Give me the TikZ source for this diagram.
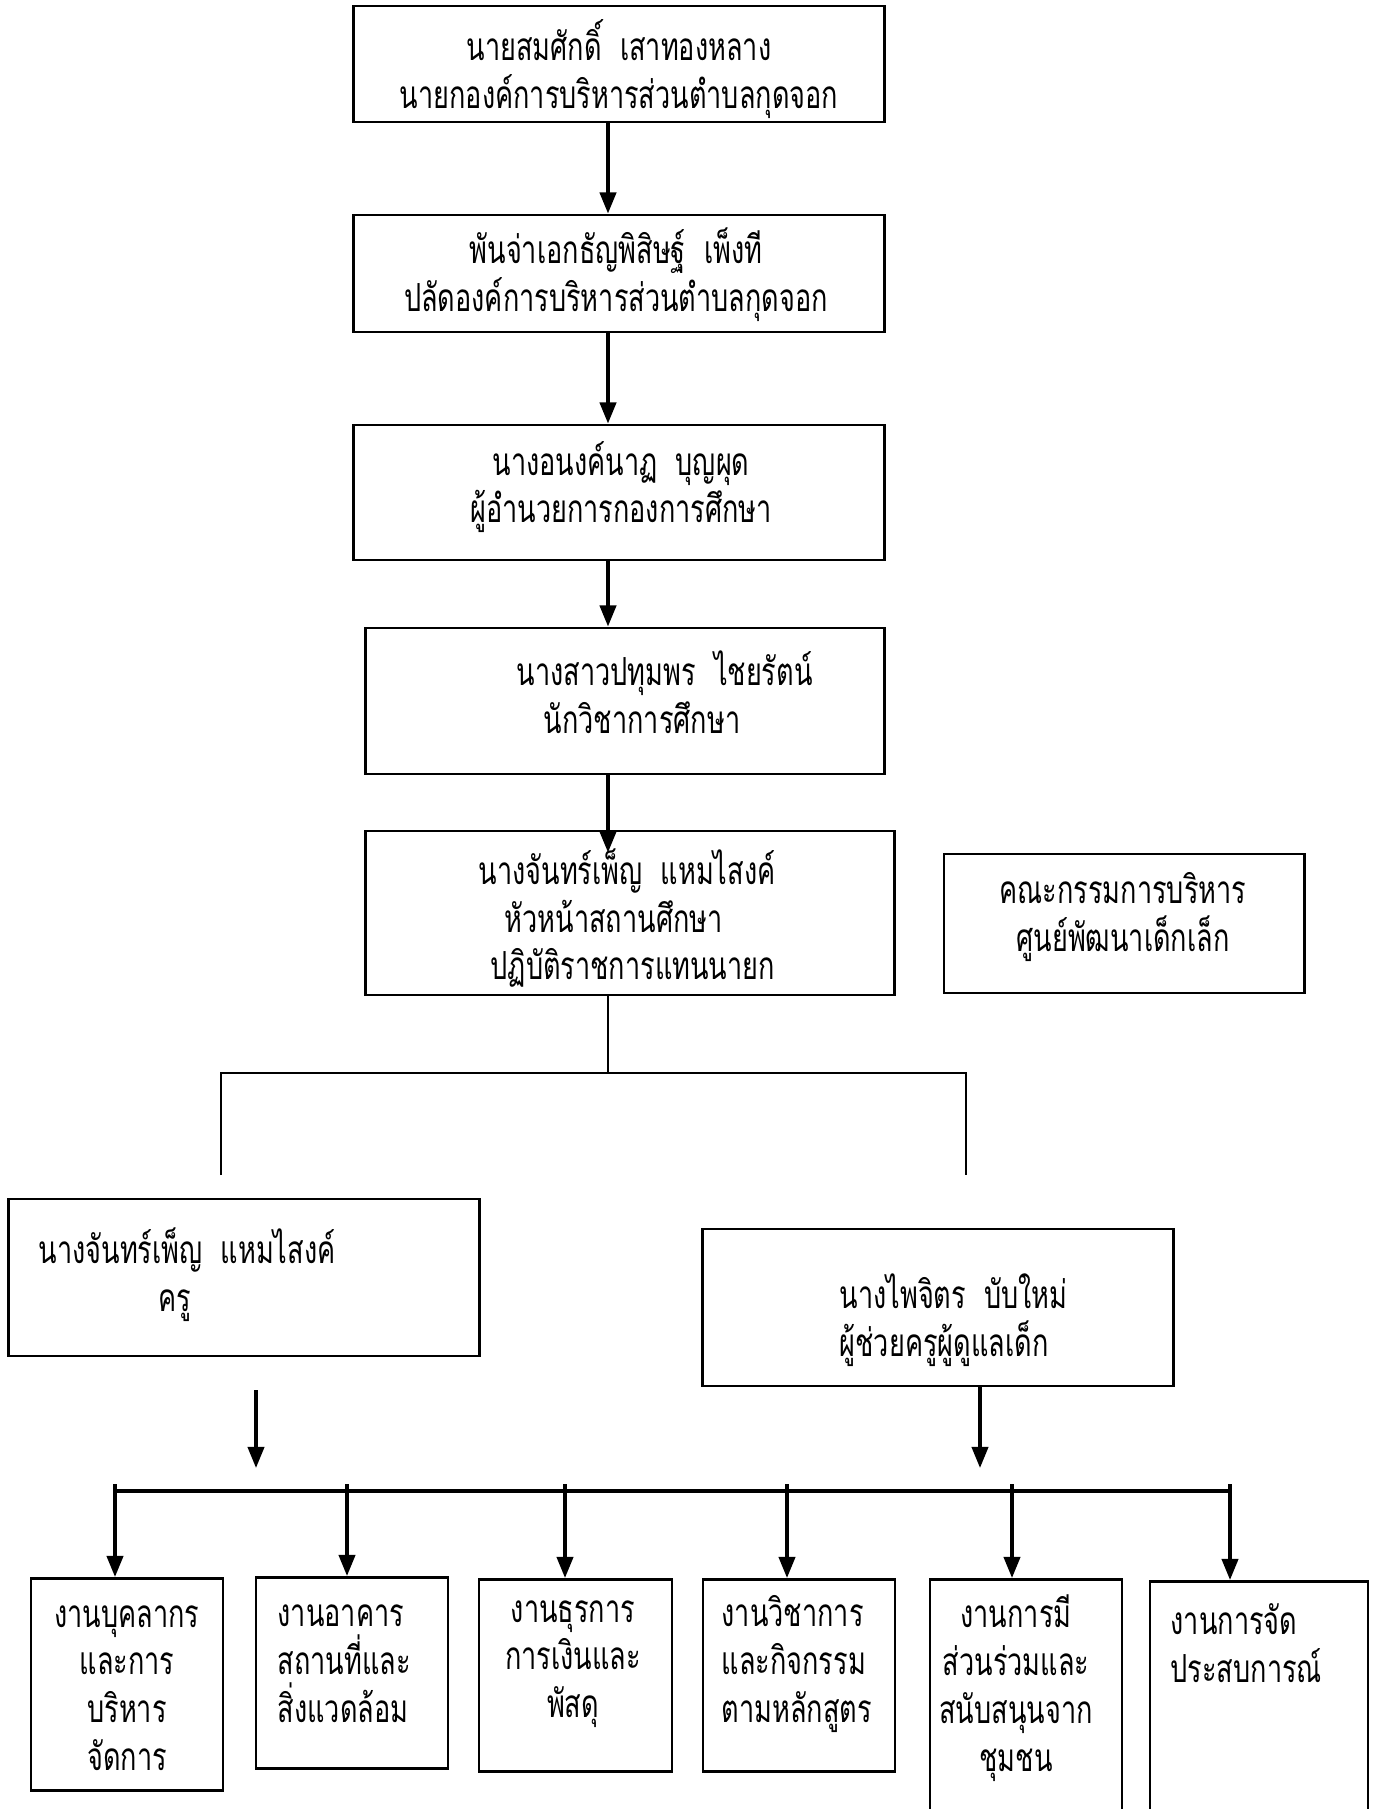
\documentclass[tikz,border=0pt]{standalone}
\usepackage{fontspec}
\newfontfamily\thaifont[Script=Thai,FakeStretch=0.7]{Loma}
\usetikzlibrary{arrows.meta,positioning,calc}

\begin{document}
\begin{tikzpicture}[x=0.01cm, y=-0.01cm,
    box/.style={draw, line width=0.8pt, inner sep=0pt},
    arr/.style={-{Triangle[length=6pt,width=4.6pt]}, line width=1pt},
    link/.style={line width=0.6pt},
    lbl/.style={font=\thaifont\fontsize{11pt}{13.6pt}\selectfont, align=center, inner sep=0pt}
]
    \clip (0,0) rectangle (1380,1809);

    % Chain of command
    \node[box, minimum width=5.3cm, minimum height=1.16cm] (mayor)    at (619,64)    {};
    \node[box, minimum width=5.3cm, minimum height=1.17cm] (clerk)    at (619,273.5) {};
    \node[box, minimum width=5.3cm, minimum height=1.35cm] (director) at (619,492.5) {};
    \node[box, minimum width=5.18cm, minimum height=1.46cm] (academic) at (625,701)  {};
    \node[box, minimum width=5.28cm, minimum height=1.64cm] (head)     at (630,913)  {};
    \node[box, minimum width=3.6cm, minimum height=1.39cm] (committee) at (1124,923.5) {};

    \node[lbl] (mayortxt) at (619,69) {นายสมศักดิ์~~เสาทองหลาง\\นายกองค์การบริหารส่วนตำบลกุดจอก};
    \node[lbl] (clerktxt) at (616,275) {พันจ่าเอกธัญพิสิษฐ์~~เพ็งที\\ปลัดองค์การบริหารส่วนตำบลกุดจอก};
    \node[lbl] (directortxt) at (621,487) {นางอนงค์นาฏ~~บุญผุด\\ผู้อำนวยการกองการศึกษา};
    \node[lbl, align=left, anchor=west] (academictxt) at (516,692) {นางสาวปทุมพร~~ไชยรัตน์\\\hspace*{0.27cm}นักวิชาการศึกษา};
    \node[lbl, align=left, anchor=west] (headtxt) at (478,918) {นางจันทร์เพ็ญ~~แหมไสงค์\\\hspace*{0.26cm}หัวหน้าสถานศึกษา\\\hspace*{0.12cm}ปฏิบัติราชการแทนนายก};
    \node[lbl] (committeetxt) at (1123,917) {คณะกรรมการบริหาร\\ศูนย์พัฒนาเด็กเล็ก};

    % Staff
    \node[box, minimum width=4.7cm, minimum height=1.57cm] (kru)  at (244,1277.5) {};
    \node[box, minimum width=4.7cm, minimum height=1.57cm] (aide) at (938,1307.5) {};
    \node[lbl, align=left, anchor=west] (krutxt) at (38,1275) {นางจันทร์เพ็ญ~~แหมไสงค์\\\hspace*{1.2cm}ครู};
    \node[lbl, align=left, anchor=west] (aidetxt) at (839,1320) {นางไพจิตร~~บับใหม่\\ผู้ช่วยครูผู้ดูแลเด็ก};

    % Work areas
    \node[box, anchor=north, minimum width=1.92cm, minimum height=2.12cm] (personnel)  at (127,1577)  {};
    \node[box, anchor=north, minimum width=1.92cm, minimum height=1.91cm] (building)   at (352,1576)  {};
    \node[box, anchor=north, minimum width=1.93cm, minimum height=1.92cm] (finance)    at (575.5,1578) {};
    \node[box, anchor=north, minimum width=1.92cm, minimum height=1.92cm] (curriculum) at (799,1578)  {};
    \node[box, anchor=north, minimum width=1.92cm, minimum height=2.6cm]  (community)  at (1026,1578) {};
    \node[box, anchor=north, minimum width=2.18cm, minimum height=2.6cm]  (experience) at (1259,1580) {};

    \node[lbl] (personneltxt) at (127,1688) {งานบุคลากร\\และการ\\บริหาร\\จัดการ};
    \node[lbl, align=left, anchor=west] (buildingtxt) at (277,1664) {งานอาคาร\\สถานที่และ\\สิ่งแวดล้อม};
    \node[lbl] (financetxt) at (573,1664) {งานธุรการ\\การเงินและ\\พัสดุ};
    \node[lbl, align=left, anchor=west] (curriculumtxt) at (721,1664) {งานวิชาการ\\และกิจกรรม\\ตามหลักสูตร};
    \node[lbl] (communitytxt) at (1016,1688) {งานการมี\\ส่วนร่วมและ\\สนับสนุนจาก\\ชุมชน};
    \node[lbl, align=left, anchor=west] (experiencetxt) at (1170,1643) {งานการจัด\\ประสบการณ์};

    % Arrows
    \coordinate (spine) at (608,0);
    \draw[arr] (mayor.south -| spine) -- (clerk.north -| spine);
    \draw[arr] (clerk.south -| spine) -- (director.north -| spine);
    \draw[arr] (director.south -| spine) -- (academic.north -| spine);
    \draw[arr] (academic.south -| spine) -- ($(head.north -| spine)+(0,23)$);

    \coordinate (fork)  at (608,1073);
    \coordinate (forkL) at (221,1175);
    \coordinate (forkR) at (966,1175);
    \draw[link] (head.south -| spine) -- (fork);
    \draw[link] (forkL) |- (fork) -| (forkR);

    \coordinate (kruA) at (256,1390);
    \coordinate (kruB) at (256,1468);
    \coordinate (aideB) at (980,1468);
    \draw[arr] (kruA) -- (kruB);
    \draw[arr] (aide.south -| aideB) -- (aideB);

    \coordinate (busL) at (115,1491);
    \coordinate (busR) at (1230,1491);
    \draw[line width=1pt] (busL) -- (busR);
    \foreach \job/\x in {personnel/115, building/347, finance/565, curriculum/787, community/1012, experience/1230} {
        \coordinate (drop\job) at (\x,1484);
        \draw[arr] (drop\job) -- (\job.north -| drop\job);
    }
\end{tikzpicture}
\end{document}
